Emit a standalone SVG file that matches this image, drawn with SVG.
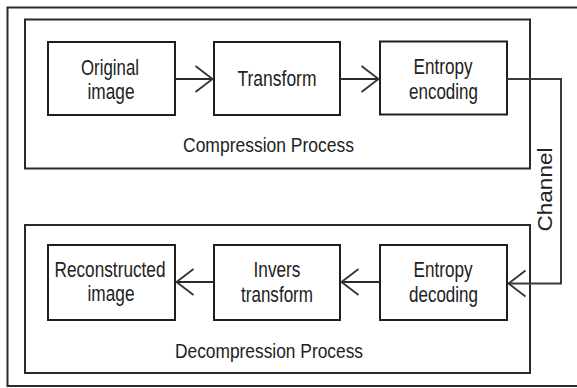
<svg xmlns="http://www.w3.org/2000/svg" width="577" height="388" viewBox="0 0 577 388">
  <defs>
    <style>
      .frame { fill: #ffffff; stroke: #2a2a2a; stroke-width: 2; }
      .box { fill: #ffffff; stroke: #1e1e1e; stroke-width: 2; }
      .lbl { font-family: "Liberation Sans", Arial, sans-serif; font-size: 22.5px; fill: #222222; text-anchor: middle; }
      .proc { font-family: "Liberation Sans", Arial, sans-serif; font-size: 21px; fill: #222222; text-anchor: middle; }
      .conn { fill: none; stroke: #2a2a2a; stroke-width: 2; }
      .chan { fill: none; stroke: #3a3a3a; stroke-width: 2; }
    </style>
    <marker id="chev" markerUnits="userSpaceOnUse" markerWidth="24" markerHeight="30" refX="0" refY="0" orient="auto" overflow="visible">
      <path d="M-17,-13 L0,0 L-17,13" fill="none" stroke="#333333" stroke-width="1.8"/>
    </marker>
  </defs>

  <rect id="outer-frame" class="frame" x="7.5" y="7.5" width="580" height="378.5"/>

  <g id="compression-process">
    <rect class="frame" x="25" y="19.5" width="505" height="149"/>
    <text class="proc" x="268.5" y="151.5" textLength="171" lengthAdjust="spacingAndGlyphs">Compression Process</text>
  </g>

  <g id="decompression-process">
    <rect class="frame" x="25" y="225" width="505" height="148"/>
    <text class="proc" x="269" y="358" textLength="188" lengthAdjust="spacingAndGlyphs">Decompression Process</text>
  </g>

  <g id="original-image">
    <rect class="box" x="48" y="42" width="127" height="73"/>
    <text class="lbl" x="110" y="74.5" textLength="58" lengthAdjust="spacingAndGlyphs">Original</text>
    <text class="lbl" x="111" y="98.5" textLength="47" lengthAdjust="spacingAndGlyphs">image</text>
  </g>

  <g id="transform">
    <rect class="box" x="214" y="42" width="126" height="73"/>
    <text class="lbl" x="277" y="85.5" textLength="79" lengthAdjust="spacingAndGlyphs">Transform</text>
  </g>

  <g id="entropy-encoding">
    <rect class="box" x="380" y="41.5" width="127" height="73"/>
    <text class="lbl" x="443" y="73.5" textLength="59" lengthAdjust="spacingAndGlyphs">Entropy</text>
    <text class="lbl" x="443.5" y="98.5" textLength="69" lengthAdjust="spacingAndGlyphs">encoding</text>
  </g>

  <g id="reconstructed-image">
    <rect class="box" x="48" y="245" width="127" height="75"/>
    <text class="lbl" x="110" y="277" textLength="111" lengthAdjust="spacingAndGlyphs">Reconstructed</text>
    <text class="lbl" x="111" y="301" textLength="47" lengthAdjust="spacingAndGlyphs">image</text>
  </g>

  <g id="invers-transform">
    <rect class="box" x="214" y="245" width="126" height="75"/>
    <text class="lbl" x="277" y="277" textLength="47" lengthAdjust="spacingAndGlyphs">Invers</text>
    <text class="lbl" x="277" y="301.5" textLength="72" lengthAdjust="spacingAndGlyphs">transform</text>
  </g>

  <g id="entropy-decoding">
    <rect class="box" x="380" y="245" width="127" height="75"/>
    <text class="lbl" x="443" y="277" textLength="59" lengthAdjust="spacingAndGlyphs">Entropy</text>
    <text class="lbl" x="443.5" y="301.5" textLength="69" lengthAdjust="spacingAndGlyphs">decoding</text>
  </g>

  <g id="connectors">
    <line class="conn" x1="175" y1="79" x2="212.5" y2="79" marker-end="url(#chev)"/>
    <line class="conn" x1="340" y1="79" x2="378.5" y2="79" marker-end="url(#chev)"/>
    <line class="conn" x1="214" y1="282" x2="176.5" y2="282" marker-end="url(#chev)"/>
    <line class="conn" x1="380" y1="282" x2="341.5" y2="282" marker-end="url(#chev)"/>
    <path class="chan" d="M507,79 H561 V283.5 H508.5" marker-end="url(#chev)"/>
    <text class="proc" transform="translate(551.5 189.5) rotate(-90)" x="0" y="0" font-size="20" textLength="84" lengthAdjust="spacingAndGlyphs">Channel</text>
  </g>
</svg>
